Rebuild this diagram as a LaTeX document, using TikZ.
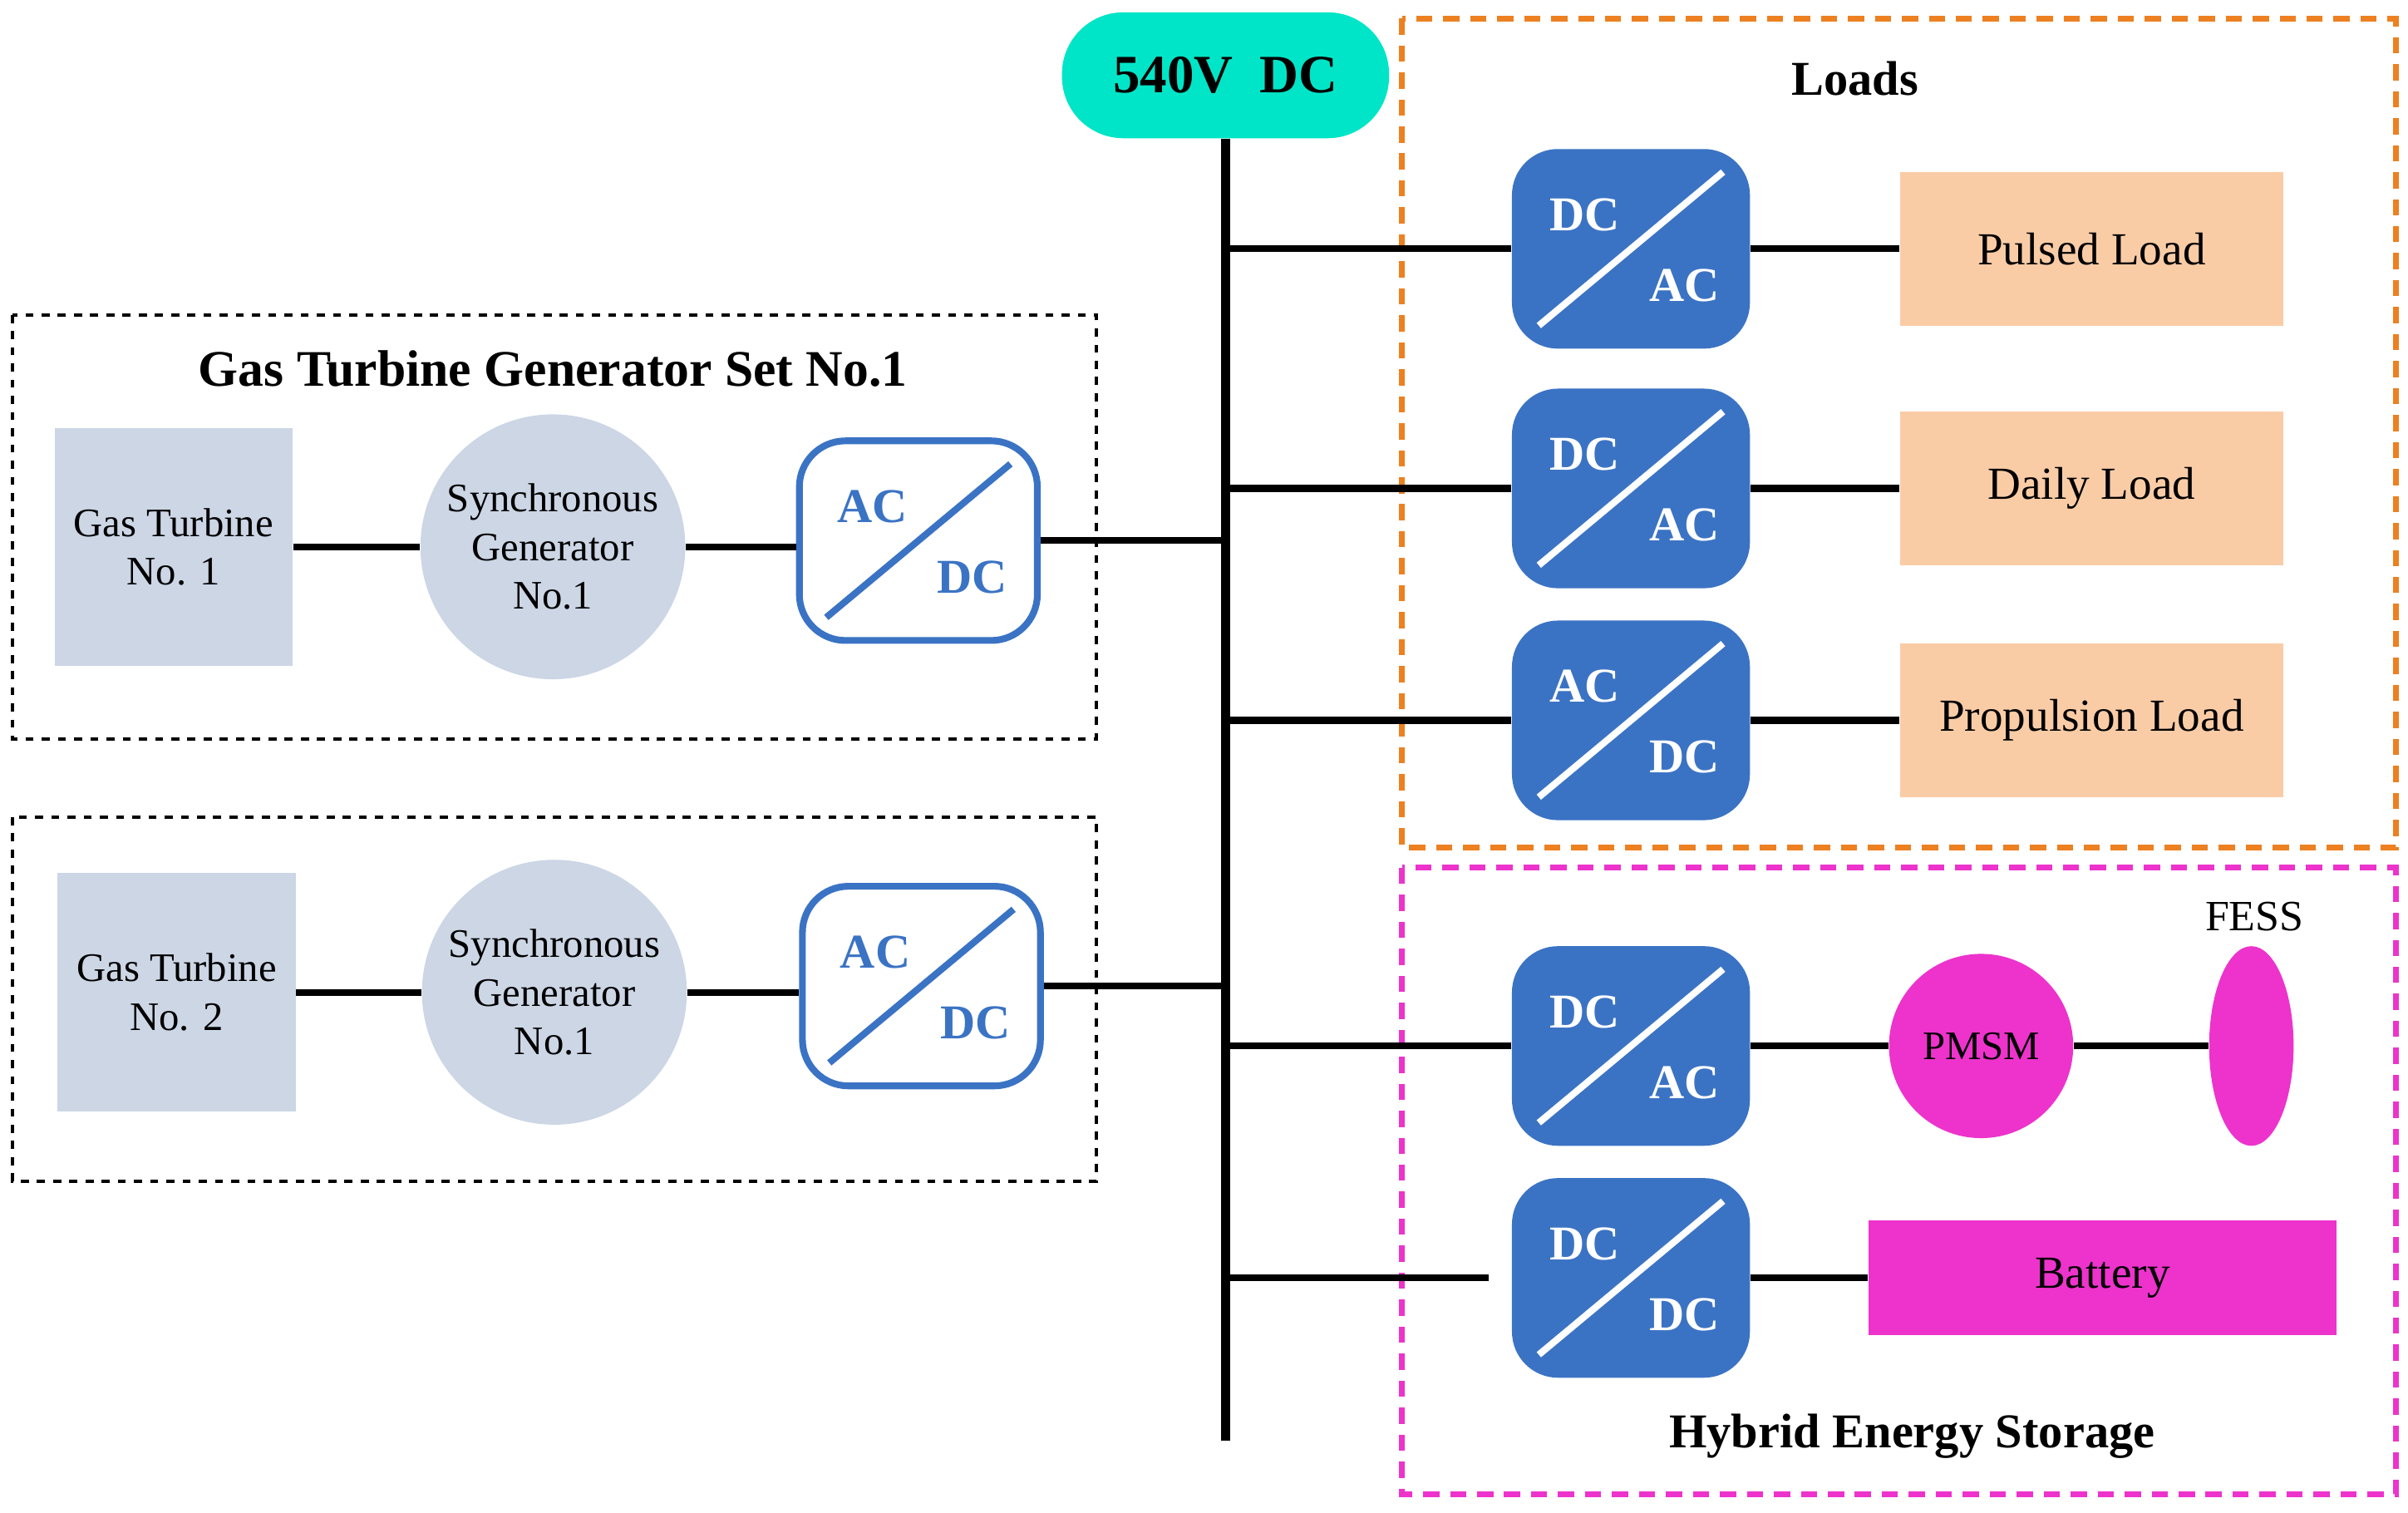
\documentclass[tikz,border=0pt]{standalone}
\usepackage{fontspec}
\setmainfont{Liberation Serif}
\usetikzlibrary{positioning, calc, shapes.geometric}
\definecolor{busgreen}{rgb}{0.0,0.9,0.78}
\definecolor{convblue}{rgb}{0.23,0.45,0.77}
\definecolor{peach}{rgb}{0.98,0.8,0.65}
\definecolor{loadorange}{rgb}{0.93,0.5,0.13}
\definecolor{hesspink}{rgb}{0.93,0.2,0.8}
\definecolor{gtgray}{rgb}{0.8,0.84,0.9}

\tikzset{
  conv/.style={rounded corners=0.6cm, minimum width=3.1cm, minimum height=2.6cm, fill=convblue,
    path picture={\draw[white,line width=2.5pt] ([shift={(0.35cm,0.3cm)}]path picture bounding box.south west) -- ([shift={(-0.35cm,-0.3cm)}]path picture bounding box.north east);}},
  convo/.style={rounded corners=0.6cm, minimum width=3.1cm, minimum height=2.6cm, fill=white, draw=convblue, line width=2.5pt,
    path picture={\draw[convblue,line width=2.5pt] ([shift={(0.35cm,0.3cm)}]path picture bounding box.south west) -- ([shift={(-0.35cm,-0.3cm)}]path picture bounding box.north east);}},
  lbl/.style={font=\fontsize{18}{18}\selectfont\bfseries},
  wire/.style={line width=2.5pt},
  load/.style={fill=peach, minimum width=5cm, minimum height=2cm, font=\fontsize{17}{20}\selectfont},
  gt/.style={fill=gtgray, minimum width=3.1cm, minimum height=3.1cm, align=center, font=\fontsize{15}{18}\selectfont},
  sg/.style={circle, fill=gtgray, minimum size=3.45cm, align=center, inner sep=0pt, font=\fontsize{15}{18}\selectfont},
  group/.style={dashed, line width=1.2pt},
  cgroup/.style={dash pattern=on 6pt off 4pt, line width=2.2pt}
}

% converter: name, x, y, upper text, lower text, style
\newcommand{\conv}[6]{%
  \node(#1) [#6] at (#2,#3) {};
  \node [lbl,#6text] at ($(#1.center)+(-30,-22)$) {#4};
  \node [lbl,#6text] at ($(#1.center)+(35,24)$) {#5};
}
\tikzset{convtext/.style={white}, convotext/.style={convblue}}

\begin{document}
\begin{tikzpicture}[x=0.02cm,y=-0.02cm]
\useasboundingbox (0,0) rectangle (1568,985);

% bus
\node(bus) [rounded corners=0.8cm, fill=busgreen, minimum width=4.26cm, minimum height=1.64cm, font=\fontsize{20}{20}\selectfont\bfseries] at (798,49) {540V\ \ DC};
\coordinate (busend) at (798,938);
\draw[line width=3.5pt] (bus.south) -- (busend);

% groups
\draw[cgroup, loadorange] (913,12) rectangle (1560,552);
\node [font=\fontsize{18}{20}\selectfont\bfseries] at (1208,51) {Loads};
\draw[cgroup, hesspink] (913,565) rectangle (1560,973);
\node(hess) [font=\fontsize{18}{20}\selectfont\bfseries] at (1245,935) {Hybrid Energy Storage};
\draw[group] (8,205) rectangle (714,481);
\node [font=\fontsize{19}{20}\selectfont\bfseries] at (360,240) {Gas Turbine Generator Set No.1};
\draw[group] (8,532) rectangle (714,769);

%----------------------------------------------------------------
\conv{c1}{1062}{162}{DC}{AC}{conv}
\conv{c2}{1062}{318}{DC}{AC}{conv}
\conv{c3}{1062}{469}{AC}{DC}{conv}
\conv{c4}{1062}{681}{DC}{AC}{conv}
\conv{c5}{1062}{832}{DC}{DC}{conv}

\node(pulsed) [load] at (1362,162) {Pulsed Load};
\node(daily) [load] at (1362,318) {Daily Load};
\node(prop) [load] at (1362,469) {Propulsion Load};

\node(pmsm) [circle, fill=hesspink, minimum size=2.4cm, font=\fontsize{15}{15}\selectfont] at (1290,681) {PMSM};
\node(fess) [ellipse, fill=hesspink, minimum width=1.1cm, minimum height=2.6cm] at (1466,681) {};
\node [font=\fontsize{16}{16}\selectfont] at (1468,597) {FESS};
\node(battery) [fill=hesspink, minimum width=6.1cm, minimum height=1.5cm, font=\fontsize{17}{17}\selectfont] at (1369,832) {Battery};

%----------------------------------------------------------------
\node(gt1) [gt] at (113,356) {Gas Turbine\\No. 1};
\node(sg1) [sg] at (360,356) {Synchronous\\Generator\\No.1};
\conv{ac1}{598}{352}{AC}{DC}{convo}
\node(gt2) [gt] at (115,646) {Gas Turbine\\No. 2};
\node(sg2) [sg] at (361,646) {Synchronous\\Generator\\No.1};
\conv{ac2}{600}{642}{AC}{DC}{convo}

%----------------------------------------------------------------
\foreach \c in {c1,c2,c3,c4}
  \draw[wire] (\c.west) -- (\c.west -| bus.south);
\draw[wire] ([xshift=-0.3cm]c5.west) -- (c5.west -| bus.south);
\draw[wire] (c1) -- (pulsed);
\draw[wire] (c2) -- (daily);
\draw[wire] (c3) -- (prop);
\draw[wire] (c4) -- (pmsm);
\draw[wire] (pmsm) -- (fess.west);
\draw[wire] (c5) -- (battery);
\draw[wire] (gt1) -- (sg1);
\draw[wire] (sg1.east) -- (sg1.east -| ac1.west);
\draw[wire] (ac1.east) -- (ac1.east -| bus.south);
\draw[wire] (gt2) -- (sg2);
\draw[wire] (sg2.east) -- (sg2.east -| ac2.west);
\draw[wire] (ac2.east) -- (ac2.east -| bus.south);
\end{tikzpicture}
\end{document}
